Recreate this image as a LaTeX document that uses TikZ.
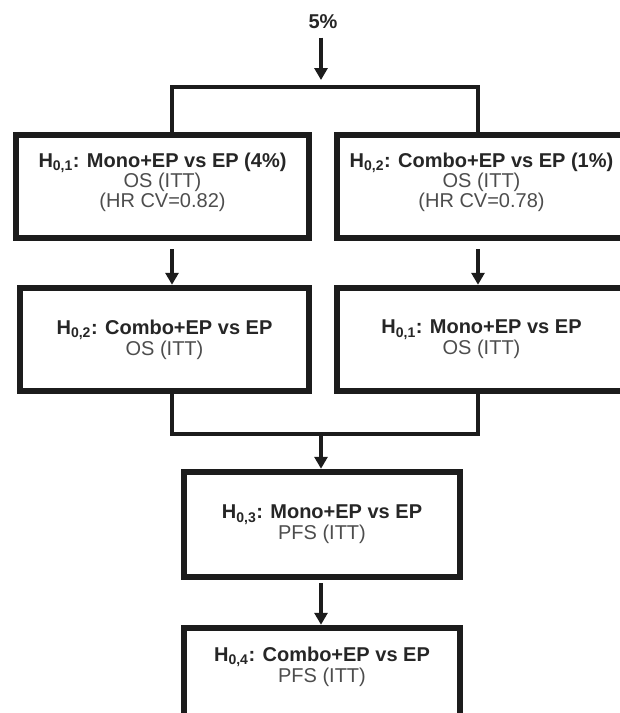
\documentclass[tikz,border=0pt]{standalone}
\usepackage{fontspec}
\setmainfont{Liberation Sans}
\usetikzlibrary{arrows.meta}
\definecolor{ink}{HTML}{1C1C1C}
\definecolor{headtxt}{HTML}{262626}
\definecolor{subtxt}{HTML}{4D4D4D}
% bold hypothesis heading: H with subscript index, then its label
\newcommand{\hyp}[2]{{\bfseries\color{headtxt}H\textsubscript{#1}: #2}}

\begin{document}
\begin{tikzpicture}[x=1pt,y=-1pt,
  hbox/.style={draw=ink, line width=6.5pt, rectangle, align=center,
    inner sep=0pt, outer sep=3.25pt,
    font=\fontsize{20}{19.5}\selectfont, text=subtxt},
  conn/.style={draw=ink, line width=4.5pt, line join=miter},
  arr/.style={conn, -{Triangle[width=13pt,length=12pt]}}]

\fill[white] (0,0) rectangle (620,713);
\useasboundingbox (0,0) rectangle (620,713);

% branch points and the x positions of the two columns
\coordinate (xl) at (172,0);
\coordinate (xr) at (478,0);
\coordinate (split) at (321,87);
\coordinate (join) at (321,434);

% first row
\node[hbox, minimum width=293pt, minimum height=103pt, text depth=13pt]
  (A) at (162.5,186.5) {\hyp{0,1}{Mono+EP vs EP (4\%)}\\OS (ITT)\\(HR CV=0.82)};
\node[hbox, minimum width=289pt, minimum height=103pt, text depth=13pt]
  (B) at (481.5,186.5) {\hyp{0,2}{Combo+EP vs EP (1\%)}\\OS (ITT)\\(HR CV=0.78)};

% second row
\node[hbox, minimum width=289pt, minimum height=103pt]
  (C) at (164.5,339.5) {\hyp{0,2}{Combo+EP vs EP}\\OS (ITT)};
\node[hbox, minimum width=289pt, minimum height=103pt]
  (D) at (481.5,339.5) {\hyp{0,1}{Mono+EP vs EP}\\OS (ITT)};

% final chain
\node[hbox, minimum width=276pt, minimum height=105pt]
  (E) at (322,524.5) {\hyp{0,3}{Mono+EP vs EP}\\PFS (ITT)};
\node[hbox, minimum width=276pt, minimum height=105pt, text depth=31pt]
  (F) at (322,680.5) {\hyp{0,4}{Combo+EP vs EP}\\PFS (ITT)};

% overall alpha
\node[font=\bfseries\fontsize{20}{20}\selectfont, text=headtxt] (pct) at (323,22) {5\%};
\draw[arr, shorten <=5pt, shorten >=7pt] (pct.south -| split) -- (split);

% split into the two first-row hypotheses
\draw[conn] (A.north -| xl) -- (xl |- split) -- (xr |- split) -- (B.north -| xr);

% column arrows
\draw[arr, shorten <=8pt] (A.south -| xl) -- (C.north -| xl);
\draw[arr, shorten <=8pt] (B.south -| xr) -- (D.north -| xr);

% merge and continue
\draw[conn] (C.south -| xl) -- (xl |- join) -- (xr |- join) -- (D.south -| xr);
\draw[arr] (join) -- (E.north -| join);
\draw[arr, shorten <=3pt] (E.south -| join) -- (F.north -| join);
\end{tikzpicture}
\end{document}
